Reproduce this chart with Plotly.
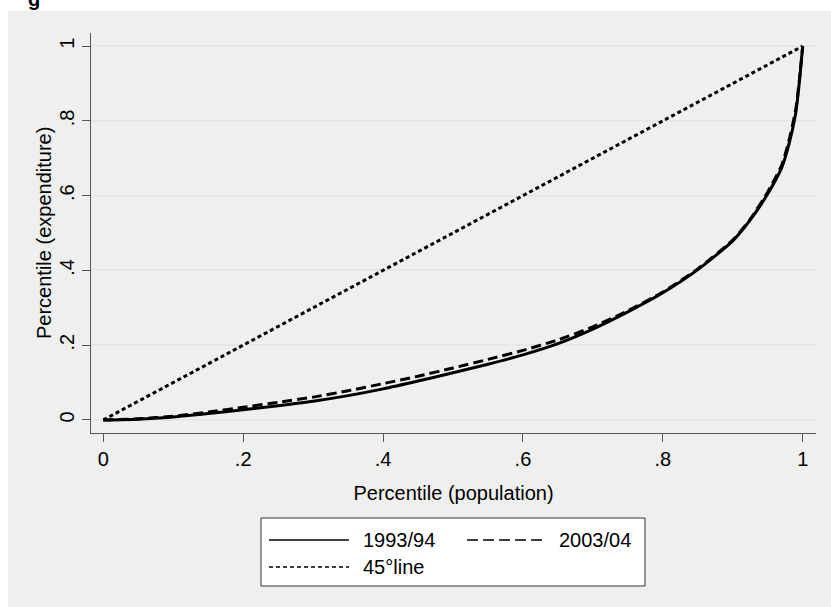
import plotly.graph_objects as go

# ---- data ----
pop = [0, 0.05, 0.1, 0.15, 0.2, 0.25, 0.3, 0.35, 0.4, 0.45, 0.5, 0.55, 0.6,
       0.65, 0.7, 0.75, 0.8, 0.85, 0.9, 0.925, 0.95, 0.97, 0.98, 0.99, 0.995, 1.0]
exp_1993 = [0, 0.002, 0.008, 0.017, 0.027, 0.038, 0.050, 0.065, 0.083, 0.104,
            0.126, 0.149, 0.174, 0.204, 0.243, 0.289, 0.340, 0.402, 0.479,
            0.535, 0.605, 0.675, 0.735, 0.820, 0.900, 1.0]
exp_2003 = [0, 0.003, 0.010, 0.021, 0.034, 0.047, 0.061, 0.078, 0.097, 0.117,
            0.139, 0.162, 0.186, 0.214, 0.249, 0.292, 0.342, 0.404, 0.481,
            0.537, 0.610, 0.682, 0.745, 0.830, 0.905, 1.0]
diag_x = [0, 1]
diag_y = [0, 1]

x_ticks = [0, 0.2, 0.4, 0.6, 0.8, 1]
x_tick_labels = ["0", ".2", ".4", ".6", ".8", "1"]
y_ticks = [0, 0.2, 0.4, 0.6, 0.8, 1]
y_tick_labels = ["0", ".2", ".4", ".6", ".8", "1"]

legend_names = ["1993/94", "2003/04", "45°line"]
x_title = "Percentile (population)"
y_title = "Percentile (expenditure)"

FONT = "Liberation Sans, Arial, sans-serif"
GREY_BG = "#EFEFEF"

fig = go.Figure()
fig.add_trace(go.Scatter(x=pop, y=exp_1993, mode="lines", name=legend_names[0],
                         line=dict(color="black", width=3, shape="spline", smoothing=0.6),
                         showlegend=False))
fig.add_trace(go.Scatter(x=pop, y=exp_2003, mode="lines", name=legend_names[1],
                         line=dict(color="black", width=3, dash="10px,5px",
                                   shape="spline", smoothing=0.6),
                         showlegend=False))
fig.add_trace(go.Scatter(x=diag_x, y=diag_y, mode="lines", name=legend_names[2],
                         line=dict(color="black", width=3, dash="4px,3px"),
                         showlegend=False))

# plot area margins (pixels)
L, R, T, B = 91, 15, 33, 174
W, H = 831, 607
pw, ph = W - L - R, H - T - B


def px(x):
    return (x - L) / pw


def py(y):
    return (H - B - y) / ph


shapes = [
    # grey outer background
    dict(type="rect", xref="paper", yref="paper", x0=px(8), x1=px(W + 5),
         y0=py(H + 5), y1=py(11), fillcolor=GREY_BG, line=dict(width=0),
         layer="below"),
    # legend box
    dict(type="rect", xref="paper", yref="paper", x0=px(261), x1=px(645),
         y0=py(586), y1=py(518), fillcolor="white",
         line=dict(color="#333333", width=1)),
    # legend samples
    dict(type="line", xref="paper", yref="paper", x0=px(269), x1=px(349),
         y0=py(540), y1=py(540), line=dict(color="black", width=1.6)),
    dict(type="line", xref="paper", yref="paper", x0=px(467), x1=px(547),
         y0=py(540), y1=py(540), line=dict(color="black", width=1.6, dash="11px,5px")),
    dict(type="line", xref="paper", yref="paper", x0=px(269), x1=px(349),
         y0=py(567), y1=py(567), line=dict(color="black", width=1.6, dash="4px,3px")),
]

annotations = [
    dict(text=legend_names[0], xref="paper", yref="paper", x=px(361), y=py(540),
         xanchor="left", yanchor="middle", showarrow=False,
         font=dict(family=FONT, size=20, color="black")),
    dict(text=legend_names[1], xref="paper", yref="paper", x=px(557), y=py(540),
         xanchor="left", yanchor="middle", showarrow=False,
         font=dict(family=FONT, size=20, color="black")),
    dict(text=legend_names[2], xref="paper", yref="paper", x=px(361), y=py(567),
         xanchor="left", yanchor="middle", showarrow=False,
         font=dict(family=FONT, size=20, color="black")),
    # y axis title
    dict(text=y_title, xref="paper", yref="paper", x=px(44), y=0.5,
         xanchor="center", yanchor="middle", textangle=-90, showarrow=False,
         font=dict(family=FONT, size=20, color="black")),
    # cut-off title fragment at top-left
    dict(text="<b>g</b>", xref="paper", yref="paper", x=px(26), y=py(12),
         xanchor="left", yanchor="bottom", showarrow=False,
         font=dict(family=FONT, size=20, color="black")),
]

fig.update_layout(
    width=W, height=H,
    margin=dict(l=L, r=R, t=T, b=B, pad=0),
    paper_bgcolor="white",
    plot_bgcolor="white",
    font=dict(family=FONT, size=20, color="black"),
    shapes=shapes,
    annotations=annotations,
    showlegend=False,
    xaxis=dict(
        range=[-0.0176, 1.019], tickvals=x_ticks, ticktext=x_tick_labels,
        showgrid=False, zeroline=False, showline=True, linecolor="#555555",
        linewidth=1.2, ticks="outside", ticklen=8, tickcolor="#555555",
        tickfont=dict(size=20),
        title=dict(text=x_title, font=dict(size=20), standoff=16),
    ),
    yaxis=dict(
        range=[-0.035, 1.035], tickvals=y_ticks, ticktext=y_tick_labels,
        tickangle=-90,
        showgrid=True, gridcolor="#E6E6E6", gridwidth=1.5,
        zeroline=False, showline=True, linecolor="#555555",
        linewidth=1.2, ticks="outside", ticklen=8, tickcolor="#555555",
        tickfont=dict(size=20),
    ),
)

fig.write_html("out.html")
